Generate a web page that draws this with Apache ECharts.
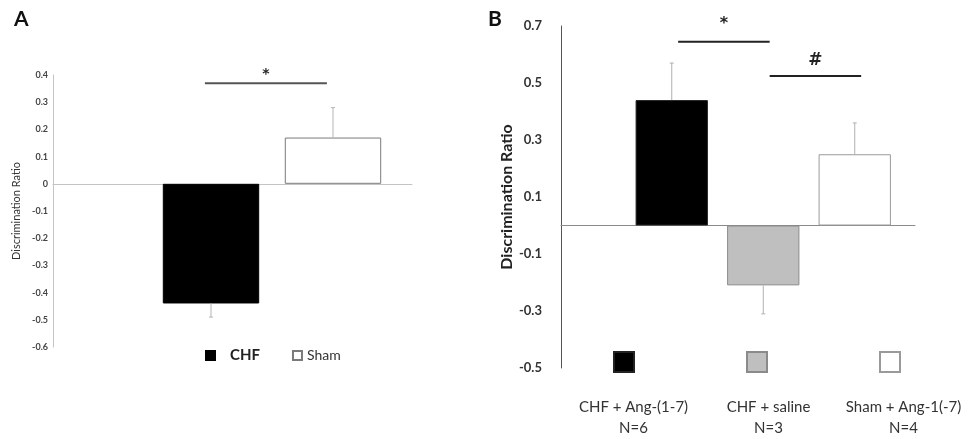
<!DOCTYPE html>
<html>
<head>
<meta charset="utf-8">
<script src="https://cdn.jsdelivr.net/npm/echarts@6/dist/echarts.min.js"></script>
<style>
  html, body { margin: 0; padding: 0; background: #fff; }
  #chart { width: 971px; height: 439px; }
</style>
</head>
<body>
<div id="chart"></div>
<script>
// panel A
var catsA = ['CHF', 'Sham'];
var valsA = [-0.44, 0.17];
var errA = [-0.05, 0.11];
var sigA = [[0, 1, 0.37, '*']];
var colorsA = ['#000000', '#ffffff'];
var borderA = ['#000000', '#7a7a7a'];

// panel B
var catsB = ['CHF + Ang-(1-7)', 'CHF + saline', 'Sham + Ang-1(-7)'];
var nB = ['N=6', 'N=3', 'N=4'];
var valsB = [0.44, -0.21, 0.25];
var errB = [0.13, -0.10, 0.11];
var sigB = [[0, 1, 0.645, '*'], [1, 2, 0.525, '#']];
var colorsB = ['#000000', '#bfbfbf', '#ffffff'];
var borderB = ['#222222', '#8a8a8a', '#9a9a9a'];

var FONT = 'Lato';

var myChart = echarts.init(document.getElementById('chart'));

// one bar per category, each its own series so the legend can show it
function barSeries(cats, vals, colors, borders, xi, stack) {
    return cats.map(function (name, i) {
        return {
            name: name,
            type: 'bar',
            xAxisIndex: xi,
            yAxisIndex: xi,
            stack: stack,
            barCategoryGap: '21%',
            itemStyle: { color: colors[i], borderColor: borders[i], borderWidth: 1 },
            data: vals.map(function (v, j) { return j === i ? v : '-'; }),
            z: 2
        };
    });
}

function errSeries(vals, errs, xi, color) {
    return {
        type: 'custom',
        xAxisIndex: xi,
        yAxisIndex: xi,
        z: 3,
        data: vals.map(function (v, i) { return [i, v, errs[i]]; }),
        renderItem: function (params, api) {
            var p0 = api.coord([api.value(0), api.value(1)]);
            var p1 = api.coord([api.value(0), api.value(1) + api.value(2)]);
            return {
                type: 'group',
                children: [
                    { type: 'line', shape: { x1: p0[0], y1: p0[1], x2: p1[0], y2: p1[1] }, style: { stroke: color, lineWidth: 1 } },
                    { type: 'line', shape: { x1: p1[0] - 2, y1: p1[1], x2: p1[0] + 2, y2: p1[1] }, style: { stroke: color, lineWidth: 1 } }
                ]
            };
        }
    };
}

// significance bar with its mark; lift = how far the mark sits above the line
function sigSeries(sig, xi, shift, lineColor, font, lift) {
    return {
        type: 'custom',
        xAxisIndex: xi,
        yAxisIndex: xi,
        z: 4,
        data: sig.map(function (s) { return [s[0], s[1], s[2]]; }),
        renderItem: function (params, api) {
            var a = api.coord([api.value(0), api.value(2)]);
            var b = api.coord([api.value(1), api.value(2)]);
            var dx = api.size([1, 0])[0] * shift;
            var mark = sig[params.dataIndex][3];
            return {
                type: 'group',
                children: [
                    { type: 'line', shape: { x1: a[0] + dx, y1: a[1], x2: b[0] + dx, y2: b[1] }, style: { stroke: lineColor, lineWidth: 2 } },
                    { type: 'text', style: { text: mark, x: (a[0] + b[0]) / 2 + dx, y: a[1] - lift[mark], align: 'center', verticalAlign: 'middle', font: font[mark], fill: '#222' } }
                ]
            };
        }
    };
}

var option = {
    animation: false,
    backgroundColor: '#ffffff',
    textStyle: { fontFamily: FONT },
    title: [
        { text: 'A', left: 9, top: 4, textStyle: { fontSize: 21, fontWeight: 'bold', color: '#111', fontFamily: FONT } },
        { text: 'B', left: 483, top: 4, textStyle: { fontSize: 21, fontWeight: 'bold', color: '#111', fontFamily: FONT } }
    ],
    legend: [
        {
            data: catsA,
            left: 200, top: 343,
            icon: 'rect', itemWidth: 9, itemHeight: 9, itemGap: 32,
            selectedMode: false,
            formatter: function (name) { return name === 'CHF' ? '{b|' + name + '}' : '{n|' + name + '}'; },
            textStyle: {
                rich: {
                    b: { fontSize: 15, fontWeight: 'bold', color: '#222', fontFamily: FONT, padding: [0, 0, 0, 10] },
                    n: { fontSize: 14, color: '#333', fontFamily: FONT }
                }
            }
        },
        {
            data: catsB,
            left: 608, top: 346,
            icon: 'rect', itemWidth: 20, itemHeight: 20, itemGap: 111,
            selectedMode: false,
            formatter: function () { return ''; }
        }
    ],
    grid: [
        { left: 53, top: 75, width: 359, height: 272 },
        { left: 150, top: 75, width: 244, height: 272 },
        { left: 561, top: 26, width: 354, height: 342 },
        { left: 626, top: 26, width: 274.5, height: 342 },
        { left: 566, top: 380, width: 405, height: 18 }
    ],
    xAxis: [
        { gridIndex: 0, type: 'value', min: 0, max: 1, axisLine: { show: true, onZero: true, lineStyle: { color: '#c4c4c4', width: 1 } }, axisTick: { show: false }, axisLabel: { show: false }, splitLine: { show: false } },
        { gridIndex: 1, type: 'category', data: catsA, show: false },
        { gridIndex: 2, type: 'value', min: 0, max: 1, axisLine: { show: true, onZero: true, lineStyle: { color: '#8a8a8a', width: 1 } }, axisTick: { show: false }, axisLabel: { show: false }, splitLine: { show: false } },
        { gridIndex: 3, type: 'category', data: catsB, show: false },
        {
            gridIndex: 4, type: 'category', data: catsB,
            axisLine: { show: false }, axisTick: { show: false },
            axisLabel: {
                interval: 0, margin: 2, fontSize: 15, color: '#333', lineHeight: 21, fontFamily: FONT,
                formatter: function (v, i) { return v + '\n' + nB[i]; }
            }
        }
    ],
    yAxis: [
        {
            gridIndex: 0, type: 'value', min: -0.6, max: 0.4, interval: 0.1,
            name: 'Discrimination Ratio', nameLocation: 'middle', nameGap: 31,
            nameTextStyle: { fontSize: 11, color: '#333', fontFamily: FONT },
            axisLine: { show: true, lineStyle: { color: '#c4c4c4', width: 1 } },
            axisTick: { show: false }, splitLine: { show: false },
            axisLabel: { fontSize: 9, fontWeight: 'bold', color: '#444', margin: 5, fontFamily: FONT, formatter: function (v) { return +v.toFixed(1) + ''; } }
        },
        { gridIndex: 1, type: 'value', min: -0.6, max: 0.4, show: false },
        {
            gridIndex: 2, type: 'value', min: -0.5, max: 0.7, interval: 0.2,
            name: 'Discrimination Ratio', nameLocation: 'middle', nameGap: 46,
            nameTextStyle: { fontSize: 16, fontWeight: 'bold', color: '#222', fontFamily: FONT },
            axisLine: { show: true, lineStyle: { color: '#555', width: 1 } },
            axisTick: { show: false }, splitLine: { show: false },
            axisLabel: { fontSize: 13, fontWeight: 'bold', color: '#333', margin: 19, fontFamily: FONT, formatter: function (v) { return +v.toFixed(1) + ''; } }
        },
        { gridIndex: 3, type: 'value', min: -0.5, max: 0.7, show: false },
        { gridIndex: 4, type: 'value', show: false }
    ],
    series: [].concat(
        barSeries(catsA, valsA, colorsA, borderA, 1, 'A'),
        [errSeries(valsA, errA, 1, '#b5b5b5'),
         sigSeries(sigA, 1, -0.05, '#555', { '*': 'bold 14px "DejaVu Sans"' }, { '*': 9 })],
        barSeries(catsB, valsB, colorsB, borderB, 3, 'B'),
        [errSeries(valsB, errB, 3, '#b0b0b0'),
         sigSeries(sigB, 3, 0.07, '#222', { '*': 'bold 16px "DejaVu Sans"', '#': 'bold 17px "DejaVu Sans"' }, { '*': 18, '#': 15 })]
    )
};

myChart.setOption(option);
</script>
</body>
</html>
